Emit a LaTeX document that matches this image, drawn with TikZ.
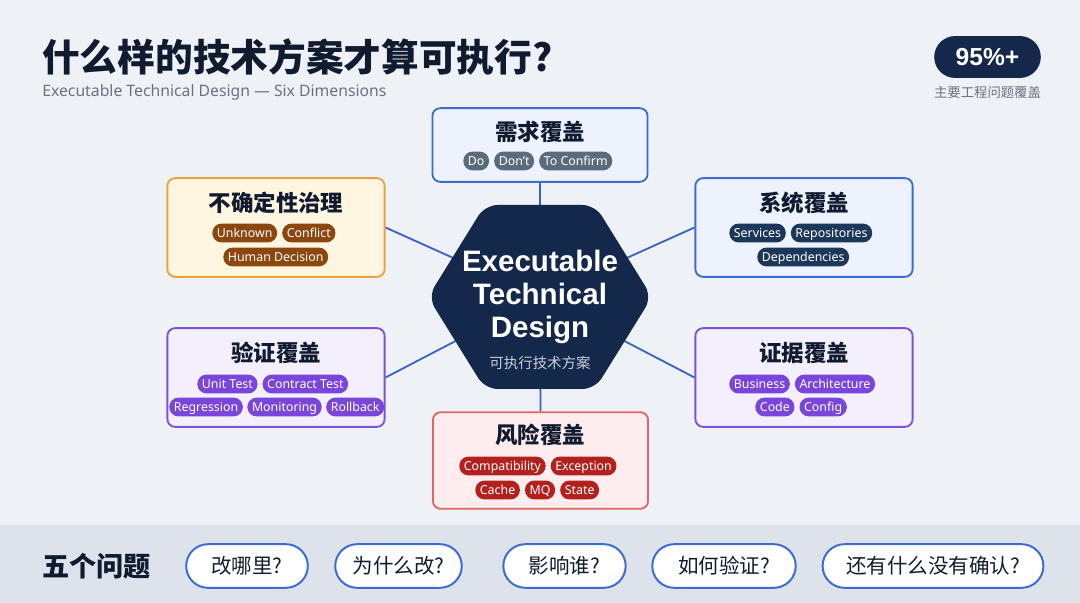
\documentclass[tikz,border=0pt]{standalone}
\usepackage{fontspec}
\setmainfont{Noto Sans}
\newfontfamily\cjk{Noto Sans CJK SC}
\newfontfamily\heavy{Liberation Sans}
\usetikzlibrary{positioning}
\pgfdeclarelayer{back}
\pgfsetlayers{back,main}
\definecolor{Navy}{HTML}{13284A}
\definecolor{Ink}{HTML}{111B30}
\definecolor{Muted}{HTML}{6B7283}
\definecolor{Canvas}{HTML}{EEF1F6}
\definecolor{Bar}{HTML}{DDE2EB}
\definecolor{Blue}{HTML}{3D6BD1}
\definecolor{BlueFill}{HTML}{EDF2FC}
\definecolor{Amber}{HTML}{E8A33D}
\definecolor{AmberFill}{HTML}{FFF6E2}
\definecolor{Brown}{HTML}{8B470F}
\definecolor{Slate}{HTML}{5A6B7C}
\definecolor{Deep}{HTML}{1C375A}
\definecolor{Violet}{HTML}{7D52DA}
\definecolor{VioletFill}{HTML}{F3EFFD}
\definecolor{VioletChip}{HTML}{7A45DB}
\definecolor{Coral}{HTML}{E06565}
\definecolor{CoralFill}{HTML}{FDEDEE}
\definecolor{Crimson}{HTML}{B3211F}
\definecolor{Link}{HTML}{3A62C7}
\definecolor{HexSub}{HTML}{C8CFDB}

\begin{document}
\begin{tikzpicture}[x=0.025cm,y=-0.025cm,font=\cjk,
    pane/.style={rounded corners=5.5pt,line width=1.3pt,minimum width=154.5pt,minimum height=70.2pt,inner sep=0pt},
    panetitle/.style={font=\cjk\bfseries\fontsize{16pt}{18pt}\selectfont,text=Ink,inner sep=0pt},
    chip/.style={fill=#1,text=white,rounded corners=6.6pt,minimum height=13.4pt,inner xsep=3.3pt,inner ysep=0pt,anchor=west,
      text height=6.3pt,text depth=0.4pt,font=\rmfamily\fontsize{8.8pt}{10pt}\selectfont},
    link/.style={draw=Link,line width=1.3pt},
    qpill/.style={draw=Blue,line width=1.4pt,fill=white,rounded corners=15.5pt,minimum height=31pt,inner sep=0pt,
      text=Ink,font=\cjk\fontsize{14.6pt}{16pt}\selectfont}]
  \useasboundingbox (0,0) rectangle (1080,603);
  \begin{pgfonlayer}{back}
    \fill[Canvas] (0,0) rectangle (1080,603);
    \fill[Bar] (0,525) rectangle (1080,603);
  \end{pgfonlayer}

  % header
  \node[anchor=west,inner sep=0pt,text=Ink,font=\cjk\bfseries\fontsize{26.8pt}{30pt}\selectfont] (title) at (42,57) {什么样的技术方案才算可执行?};
  \node[anchor=west,inner sep=0pt,text=Muted,font=\rmfamily\fontsize{11.2pt}{13pt}\selectfont] (subtitle) at (42,92) {Executable Technical Design — Six Dimensions};
  \node[fill=Navy,text=white,rounded corners=14.9pt,minimum width=75.8pt,minimum height=29.8pt,inner sep=0pt,
    font=\heavy\bfseries\fontsize{17.5pt}{20pt}\selectfont] (badge) at (987.5,57) {95\%+};
  \node[text=Muted,inner sep=0pt,font=\cjk\fontsize{9.5pt}{11pt}\selectfont] (badgecap) at (987.5,92) {主要工程问题覆盖};

  % core hexagon
  \fill[Navy,rounded corners=9pt] (428,297) -- (485,205) -- (595,205) -- (652,297) -- (595,389) -- (485,389) -- cycle;
  \coordinate (hex) at (540,297);
  \node[align=center,text=white,inner sep=0pt,font=\heavy\bfseries\fontsize{21pt}{23.4pt}\selectfont] (hextitle) at (540,297) {Executable\\Technical\\Design};
  \node[text=HexSub,inner sep=0pt,font=\cjk\fontsize{10.3pt}{12pt}\selectfont] (hexsub) at (540,363) {可执行技术方案};

  % six dimensions
  \node[pane,draw=Blue,fill=BlueFill,minimum width=153pt,minimum height=52.4pt] (req) at (540,145) {};
  \node[panetitle] (reqtitle) at (540,132) {需求覆盖};
  \node[chip=Slate] (do) at (463,161) {Do};
  \node[chip=Slate,right=3.2pt of do] (dont) {Don't};
  \node[chip=Slate,right=3.2pt of dont] (confirm) {To Confirm};

  \node[pane,draw=Amber,fill=AmberFill] (unc) at (276,227.5) {};
  \node[panetitle] (unctitle) at (276,203) {不确定性治理};
  \node[chip=Brown] (unknown) at (212,233) {Unknown};
  \node[chip=Brown,right=3.2pt of unknown] (conflict) {Conflict};
  \node[chip=Brown] (human) at (223,257) {Human Decision};

  \node[pane,draw=Blue,fill=BlueFill] (sys) at (804,227.5) {};
  \node[panetitle] (systitle) at (804,203) {系统覆盖};
  \node[chip=Deep] (services) at (729,233) {Services};
  \node[chip=Deep,right=3.2pt of services] (repos) {Repositories};
  \node[chip=Deep] (deps) at (757,257) {Dependencies};

  \node[pane,draw=Violet,fill=VioletFill] (ver) at (276,377.5) {};
  \node[panetitle] (vertitle) at (276,353) {验证覆盖};
  \node[chip=VioletChip] (unit) at (197,384) {Unit Test};
  \node[chip=VioletChip,right=3.2pt of unit] (contract) {Contract Test};
  \node[chip=VioletChip] (regress) at (169,407) {Regression};
  \node[chip=VioletChip,right=2.8pt of regress] (monitor) {Monitoring};
  \node[chip=VioletChip,right=2.8pt of monitor] (rollback) {Rollback};

  \node[pane,draw=Violet,fill=VioletFill] (evi) at (804,377.5) {};
  \node[panetitle] (evititle) at (804,353) {证据覆盖};
  \node[chip=VioletChip] (business) at (729,384) {Business};
  \node[chip=VioletChip,right=3.2pt of business] (arch) {Architecture};
  \node[chip=VioletChip] (code) at (755,407) {Code};
  \node[chip=VioletChip,right=3.2pt of code] (config) {Config};

  \node[pane,draw=Coral,fill=CoralFill,minimum width=153pt,minimum height=68.7pt] (risk) at (540.5,460.5) {};
  \node[panetitle] (risktitle) at (540,435) {风险覆盖};
  \node[chip=Crimson] (compat) at (459,466) {Compatibility};
  \node[chip=Crimson,right=3.2pt of compat] (except) {Exception};
  \node[chip=Crimson] (cache) at (475,490) {Cache};
  \node[chip=Crimson,right=3.2pt of cache] (mq) {MQ};
  \node[chip=Crimson,right=3.2pt of mq] (state) {State};

  \begin{pgfonlayer}{back}
    \draw[link] (req.south) -- (hex);
    \draw[link] (risk.north) -- (hex);
    \foreach \p in {unc,ver}{\draw[link] (\p.east) -- (hex);}
    \foreach \p in {sys,evi}{\draw[link] (\p.west) -- (hex);}
  \end{pgfonlayer}

  % five questions
  \node[anchor=west,inner sep=0pt,text=Ink,font=\cjk\bfseries\fontsize{19.3pt}{22pt}\selectfont] (five) at (42,566) {五个问题};
  \node[qpill,minimum width=86.5pt] (q1) at (247,566) {改哪里?};
  \node[qpill,minimum width=90pt] (q2) at (398.5,566) {为什么改?};
  \node[qpill,minimum width=87pt] (q3) at (564.5,566) {影响谁?};
  \node[qpill,minimum width=102pt] (q4) at (724,566) {如何验证?};
  \node[qpill,minimum width=157pt] (q5) at (933,566) {还有什么没有确认?};
\end{tikzpicture}
\end{document}
